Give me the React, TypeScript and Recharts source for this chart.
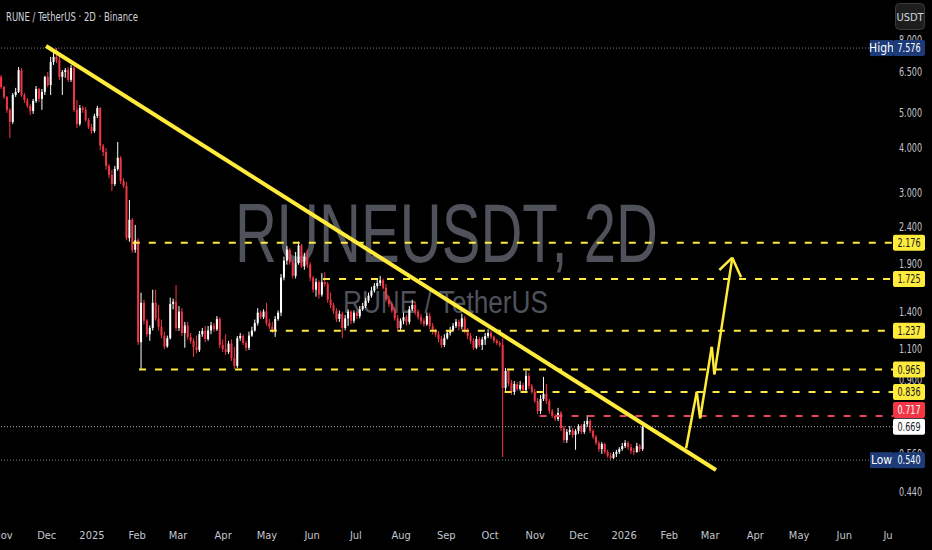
import React from 'react';
import { ComposedChart, Bar, XAxis, YAxis, ReferenceLine } from 'recharts';

// ---- time axis: day 0 = 1 Nov 2024, 2-day candles ----
const START_DAY = -1;
const monthTicks = [0, 30, 61, 92, 120, 151, 181, 212, 242, 273, 304, 334, 365, 395, 426, 457, 485, 516, 546, 577, 607];
const monthLabels = ['Nov', 'Dec', '2025', 'Feb', 'Mar', 'Apr', 'May', 'Jun', 'Jul', 'Aug', 'Sep', 'Oct', 'Nov', 'Dec', '2026', 'Feb', 'Mar', 'Apr', 'May', 'Jun', 'Ju'];

// ---- OHLC (USDT) ----
const opens = [
  6.30, 5.90, 5.54, 5.10, 4.72, 5.61, 5.72, 6.58, 5.61, 5.43,
  5.23, 5.06, 5.40, 5.83, 5.47, 5.72, 6.30, 5.98, 6.93, 7.16,
  7.02, 6.30, 6.50, 6.58, 6.18, 6.67, 5.10, 4.66, 5.16, 5.10,
  4.78, 4.57, 4.45, 4.90, 5.16, 4.05, 3.89, 3.56, 3.36, 3.17,
  3.49, 3.75, 3.23, 3.13, 2.24, 2.52, 2.08, 2.21, 1.15, 1.48,
  1.32, 1.21, 1.26, 1.48, 1.34, 1.27, 1.20, 1.12, 1.18, 1.47,
  1.49, 1.26, 1.40, 1.22, 1.28, 1.19, 1.16, 1.115, 1.094, 1.21,
  1.236, 1.174, 1.24, 1.28, 1.25, 1.335, 1.13, 1.10, 1.08, 1.14,
  1.04, 0.988, 1.18, 1.197, 1.144, 1.11, 1.20, 1.24, 1.30, 1.39,
  1.35, 1.40, 1.30, 1.27, 1.24, 1.335, 1.39, 1.74, 1.94, 2.08,
  1.92, 1.76, 1.91, 2.14, 1.87, 1.99, 1.89, 1.74, 1.61, 1.69,
  1.56, 1.69, 1.67, 1.51, 1.46, 1.405, 1.335, 1.38, 1.26, 1.34,
  1.40, 1.32, 1.39, 1.36, 1.42, 1.45, 1.50, 1.55, 1.60, 1.65,
  1.68, 1.71, 1.63, 1.51, 1.47, 1.41, 1.34, 1.26, 1.32, 1.35,
  1.31, 1.42, 1.46, 1.40, 1.35, 1.32, 1.29, 1.36, 1.277, 1.236,
  1.21, 1.174, 1.13, 1.18, 1.22, 1.24, 1.277, 1.31, 1.27, 1.34,
  1.24, 1.197, 1.16, 1.11, 1.174, 1.13, 1.17, 1.197, 1.22, 1.19,
  1.16, 1.144, 1.13, 0.858, 0.957, 0.886, 0.836, 0.880, 0.852, 0.874,
  0.847, 0.927, 0.869, 0.836, 0.789, 0.740, 0.799, 0.826, 0.789, 0.740,
  0.717, 0.703, 0.731, 0.664, 0.614, 0.647, 0.655, 0.635, 0.651, 0.672,
  0.647, 0.680, 0.694, 0.651, 0.627, 0.603, 0.580, 0.599, 0.569, 0.555,
  0.548, 0.562, 0.569, 0.580, 0.591, 0.603, 0.587, 0.573, 0.569, 0.591,
  0.580,
];
const highs = [
  6.38, 5.94, 5.57, 5.16, 5.68, 5.87, 6.71, 6.67, 5.68, 5.50,
  5.29, 5.47, 5.94, 5.87, 5.83, 6.34, 6.50, 7.16, 7.34, 7.576,
  7.30, 6.58, 6.67, 6.71, 6.80, 6.75, 5.43, 5.26, 5.23, 5.19,
  4.84, 4.66, 4.97, 5.23, 5.19, 4.10, 3.99, 3.60, 3.47, 3.56,
  4.15, 3.79, 3.29, 3.21, 2.86, 2.55, 2.44, 2.24, 1.58, 1.51,
  1.335, 1.28, 1.61, 1.61, 1.46, 1.33, 1.23, 1.20, 1.53, 1.52,
  1.66, 1.45, 1.43, 1.31, 1.31, 1.22, 1.18, 1.20, 1.236, 1.26,
  1.277, 1.277, 1.31, 1.30, 1.36, 1.35, 1.17, 1.21, 1.16, 1.17,
  1.115, 1.197, 1.22, 1.21, 1.16, 1.23, 1.27, 1.33, 1.43, 1.41,
  1.42, 1.48, 1.335, 1.31, 1.36, 1.41, 1.78, 1.99, 2.13, 2.10,
  1.94, 2.05, 2.19, 2.16, 2.04, 2.08, 1.92, 1.76, 1.73, 1.71,
  1.79, 1.80, 1.69, 1.58, 1.48, 1.43, 1.41, 1.40, 1.37, 1.42,
  1.41, 1.41, 1.405, 1.45, 1.48, 1.53, 1.58, 1.64, 1.68, 1.73,
  1.76, 1.73, 1.67, 1.55, 1.49, 1.44, 1.37, 1.34, 1.39, 1.37,
  1.45, 1.51, 1.49, 1.42, 1.38, 1.34, 1.39, 1.39, 1.30, 1.25,
  1.236, 1.197, 1.21, 1.24, 1.27, 1.30, 1.335, 1.33, 1.38, 1.36,
  1.26, 1.22, 1.18, 1.197, 1.19, 1.19, 1.22, 1.25, 1.24, 1.20,
  1.174, 1.16, 1.18, 0.975, 0.969, 0.903, 0.897, 0.891, 0.897, 0.886,
  0.957, 0.945, 0.880, 0.852, 0.805, 0.820, 0.921, 0.880, 0.799, 0.750,
  0.726, 0.755, 0.740, 0.672, 0.659, 0.672, 0.664, 0.659, 0.680, 0.680,
  0.694, 0.721, 0.703, 0.659, 0.635, 0.610, 0.606, 0.603, 0.577, 0.566,
  0.569, 0.577, 0.587, 0.603, 0.614, 0.610, 0.599, 0.584, 0.603, 0.599,
  0.685,
];
const lows = [
  5.83, 5.47, 5.00, 4.26, 4.66, 5.54, 5.68, 5.54, 5.33, 5.16,
  4.93, 4.97, 5.33, 5.36, 5.10, 5.61, 5.90, 5.61, 6.80, 6.89,
  6.18, 5.61, 6.26, 6.10, 6.10, 5.03, 4.54, 4.60, 5.00, 4.72,
  4.51, 4.37, 4.40, 4.84, 3.94, 3.79, 3.47, 3.29, 3.03, 3.13,
  3.45, 3.17, 3.09, 2.21, 2.19, 2.04, 2.04, 1.13, 0.963, 1.29,
  1.19, 1.16, 1.24, 1.32, 1.24, 1.18, 1.10, 1.11, 1.17, 1.42,
  1.236, 1.236, 1.197, 1.11, 1.17, 1.14, 1.046, 1.073, 1.08, 1.19,
  1.15, 1.16, 1.21, 1.23, 1.236, 1.11, 1.08, 1.06, 1.067, 1.02,
  0.969, 0.975, 1.16, 1.13, 1.087, 1.094, 1.19, 1.23, 1.28, 1.335,
  1.335, 1.28, 1.25, 1.22, 1.19, 1.32, 1.36, 1.71, 1.89, 1.89,
  1.73, 1.73, 1.89, 1.85, 1.83, 1.85, 1.70, 1.58, 1.54, 1.52,
  1.54, 1.64, 1.48, 1.43, 1.38, 1.31, 1.31, 1.18, 1.24, 1.277,
  1.29, 1.30, 1.335, 1.34, 1.405, 1.43, 1.48, 1.53, 1.58, 1.62,
  1.65, 1.61, 1.49, 1.44, 1.39, 1.32, 1.23, 1.236, 1.29, 1.28,
  1.29, 1.405, 1.37, 1.33, 1.29, 1.27, 1.277, 1.25, 1.21, 1.19,
  1.15, 1.11, 1.115, 1.17, 1.20, 1.23, 1.26, 1.24, 1.25, 1.22,
  1.174, 1.14, 1.094, 1.10, 1.115, 1.094, 1.13, 1.18, 1.174, 1.144,
  1.13, 1.115, 0.551, 0.842, 0.869, 0.820, 0.820, 0.842, 0.842, 0.836,
  0.836, 0.852, 0.826, 0.779, 0.726, 0.726, 0.789, 0.774, 0.726, 0.708,
  0.694, 0.694, 0.651, 0.603, 0.603, 0.635, 0.623, 0.577, 0.639, 0.639,
  0.639, 0.668, 0.643, 0.619, 0.595, 0.569, 0.562, 0.562, 0.548, 0.540,
  0.544, 0.551, 0.562, 0.573, 0.584, 0.577, 0.562, 0.558, 0.566, 0.569,
  0.573,
];
const closes = [
  5.90, 5.54, 5.10, 4.72, 5.61, 5.72, 6.58, 5.61, 5.43, 5.23,
  5.06, 5.40, 5.83, 5.47, 5.72, 6.30, 5.98, 6.93, 7.16, 7.02,
  6.30, 6.50, 6.58, 6.18, 6.67, 5.10, 4.66, 5.16, 5.10, 4.78,
  4.57, 4.45, 4.90, 5.16, 4.05, 3.89, 3.56, 3.36, 3.17, 3.49,
  3.75, 3.23, 3.13, 2.24, 2.52, 2.08, 2.21, 1.15, 1.48, 1.32,
  1.21, 1.26, 1.48, 1.34, 1.27, 1.20, 1.12, 1.18, 1.47, 1.49,
  1.26, 1.40, 1.22, 1.28, 1.19, 1.16, 1.115, 1.094, 1.21, 1.236,
  1.174, 1.24, 1.28, 1.25, 1.335, 1.13, 1.10, 1.08, 1.14, 1.04,
  0.988, 1.18, 1.197, 1.144, 1.11, 1.20, 1.24, 1.30, 1.39, 1.35,
  1.40, 1.30, 1.27, 1.24, 1.335, 1.39, 1.74, 1.94, 2.08, 1.92,
  1.76, 1.91, 2.14, 1.87, 1.99, 1.89, 1.74, 1.61, 1.69, 1.56,
  1.69, 1.67, 1.51, 1.46, 1.405, 1.335, 1.38, 1.26, 1.34, 1.40,
  1.32, 1.39, 1.36, 1.42, 1.45, 1.50, 1.55, 1.60, 1.65, 1.68,
  1.71, 1.63, 1.51, 1.47, 1.41, 1.34, 1.26, 1.32, 1.35, 1.31,
  1.42, 1.46, 1.40, 1.35, 1.32, 1.29, 1.36, 1.277, 1.236, 1.21,
  1.174, 1.13, 1.18, 1.22, 1.24, 1.277, 1.31, 1.27, 1.34, 1.24,
  1.197, 1.16, 1.11, 1.174, 1.13, 1.17, 1.197, 1.22, 1.19, 1.16,
  1.144, 1.13, 0.858, 0.957, 0.886, 0.836, 0.880, 0.852, 0.874, 0.847,
  0.927, 0.869, 0.836, 0.789, 0.740, 0.799, 0.826, 0.789, 0.740, 0.717,
  0.703, 0.731, 0.664, 0.614, 0.647, 0.655, 0.635, 0.651, 0.672, 0.647,
  0.680, 0.694, 0.651, 0.627, 0.603, 0.580, 0.599, 0.569, 0.555, 0.548,
  0.562, 0.569, 0.580, 0.591, 0.603, 0.587, 0.573, 0.569, 0.591, 0.580,
  0.669,
];

// ---- price axis ----
const priceTicks = [8, 6.5, 5, 4, 3, 2.4, 1.9, 1.4, 1.1, 0.9, 0.56, 0.44];
const HIGH = 7.576;
const LOW = 0.54;
const LAST = 0.669;

// horizontal levels (value, first day they are drawn from)
const levelValues = [2.176, 1.725, 1.237, 0.965, 0.836, 0.717];
const levelStartDays = [89, 219.5, 183, 93.3, 344, 368];
const levelColors = ['#ffeb3b', '#ffeb3b', '#ffeb3b', '#ffeb3b', '#ffeb3b', '#e0475c'];

// right-axis value boxes
const boxValues = [HIGH, 2.176, 1.725, 1.237, 0.965, 0.836, 0.717, LAST, LOW];
const boxFills = ['#1c3b78', '#ffeb3b', '#ffeb3b', '#ffeb3b', '#ffeb3b', '#ffeb3b', '#f23645', '#ffffff', '#1c3b78'];
const boxTextColors = ['#ffffff', '#131722', '#131722', '#131722', '#131722', '#131722', '#ffffff', '#131722', '#ffffff'];
const boxPrefixes = ['High', '', '', '', '', '', '', '', 'Low'];
const boxShift = [0, 0, 0, 0, 0, 0, -6, 0, 0];

// descending trendline
const trendDays = [29.5, 489];
const trendPrices = [7.68, 0.507];

// projected zig-zag arrow
const arrowDays = [468.5, 475.8, 478.1, 486.1, 487.9, 500.2];
const arrowPrices = [0.5825, 0.837, 0.706, 1.117, 0.936, 1.977];
const wingDays = [491.3, 506.2];
const wingPrices = [1.827, 1.743];

const X_DOMAIN: [number, number] = [-2.06, 610.4];
const Y_DOMAIN: [number, number] = [0.368, 10.31];

const AXIS_FONT = "'Liberation Sans Narrow', 'DejaVu Sans Condensed', 'Liberation Sans', sans-serif";
const YELLOW = '#ffeb3b';

const candleData = opens.map((o, i) => ({
  day: START_DAY + 2 * i,
  open: o,
  high: highs[i],
  low: lows[i],
  close: closes[i],
  range: [lows[i], highs[i]],
}));

const Candle = (props: any) => {
  const { x, y, width, height, payload } = props;
  if (x == null || y == null || !payload) return null;
  const top = Math.min(y, y + height);
  const h = Math.abs(height);
  const { open, close, high, low } = payload;
  const lh = Math.log(high);
  const ll = Math.log(low);
  const span = lh - ll || 1;
  const py = (v: number) => top + ((lh - Math.log(v)) / span) * h;
  const cx = x + width / 2;
  const up = close >= open;
  const color = up ? '#ffffff' : '#f23645';
  const bTop = py(Math.max(open, close));
  const bBot = py(Math.min(open, close));
  return (
    <g>
      <line x1={cx} x2={cx} y1={top} y2={top + h} stroke={color} strokeWidth={1} />
      <rect x={cx - 1} y={bTop} width={2} height={Math.max(1, bBot - bTop)} fill={color} />
    </g>
  );
};

const TimeTick = (props: any) => {
  const { x, y, payload } = props;
  const idx = monthTicks.indexOf(payload.value);
  return (
    <text x={x} y={y + 19} textAnchor="middle" fill="#c3c6ce" fontSize={11} fontFamily={AXIS_FONT}>
      {monthLabels[idx]}
    </text>
  );
};

const PriceTick = (props: any) => {
  const { x, y, payload } = props;
  const v = payload.value;
  const bi = boxValues.indexOf(v);
  const label = v.toFixed(3);
  if (bi < 0) {
    return (
      <text x={x + 29} y={y + 4} textAnchor="end" fill="#c3c6ce" fontSize={12} fontFamily={AXIS_FONT} textLength={23} lengthAdjust="spacingAndGlyphs">
        {label}
      </text>
    );
  }
  const cy = y + boxShift[bi];
  const prefix = boxPrefixes[bi];
  return (
    <g>
      {prefix && (
        <g>
          <rect x={x - 23} y={cy - 8} width={23} height={16} fill={boxFills[bi]} />
          <text x={x - 11.5} y={cy + 4} textAnchor="middle" fill={boxTextColors[bi]} fontSize={12} fontFamily={AXIS_FONT}>
            {prefix}
          </text>
        </g>
      )}
      <rect x={x} y={cy - 8} width={32} height={16} rx={2} fill={boxFills[bi]} />
      <text x={x + 16} y={cy + 4} textAnchor="middle" fill={boxTextColors[bi]} fontSize={12} fontFamily={AXIS_FONT} textLength={23} lengthAdjust="spacingAndGlyphs">
        {label}
      </text>
    </g>
  );
};

export default function App() {
  const axisTicks = [...priceTicks, ...boxValues];
  const arrowSegs = arrowDays.slice(0, -1).map((d, i) => [
    { x: d, y: arrowPrices[i] },
    { x: arrowDays[i + 1], y: arrowPrices[i + 1] },
  ]);
  const tipDay = arrowDays[arrowDays.length - 1];
  const tipPrice = arrowPrices[arrowPrices.length - 1];
  const wingSegs = wingDays.map((d, i) => [
    { x: tipDay, y: tipPrice },
    { x: d, y: wingPrices[i] },
  ]);

  return (
    <div style={{ position: 'absolute', left: 0, top: 0, width: 932, height: 550, background: '#000000', overflow: 'hidden' }}>
      <svg width={932} height={550} style={{ position: 'absolute', left: 0, top: 0 }}>
        <text x={446.5} y={262} textAnchor="middle" fill="#4f525a" fontSize={84} fontFamily="'Liberation Sans', Arial, sans-serif" textLength={423} lengthAdjust="spacingAndGlyphs">
          RUNEUSDT, 2D
        </text>
        <text x={445.5} y={313} textAnchor="middle" fill="#4f525a" fontSize={31} fontFamily="'Liberation Sans', Arial, sans-serif" textLength={205} lengthAdjust="spacingAndGlyphs">
          RUNE / TetherUS
        </text>
      </svg>
      <div style={{ position: 'absolute', left: 0, top: 0 }}>
        <ComposedChart width={932} height={550} data={candleData} margin={{ top: 0, right: 0, bottom: 0, left: 0 }}>
          <XAxis
            dataKey="day"
            type="number"
            domain={X_DOMAIN}
            allowDataOverflow
            ticks={monthTicks}
            interval={0}
            height={30}
            axisLine={false}
            tickLine={false}
            tickSize={0}
            tickMargin={0}
            tick={<TimeTick />}
          />
          <YAxis
            orientation="right"
            scale="log"
            type="number"
            domain={Y_DOMAIN}
            allowDataOverflow
            ticks={axisTicks}
            interval={0}
            width={39}
            axisLine={false}
            tickLine={false}
            tickSize={0}
            tickMargin={0}
            tick={<PriceTick />}
          />
          <ReferenceLine y={HIGH} stroke="#787b86" strokeWidth={1} strokeDasharray="1 2" />
          <ReferenceLine y={LAST} stroke="#b2b5be" strokeWidth={1} strokeDasharray="1 2" />
          <ReferenceLine y={LOW} stroke="#787b86" strokeWidth={1} strokeDasharray="1 2" />
          {levelValues.map((v, i) => (
            <ReferenceLine
              key={'lv' + i}
              segment={[{ x: levelStartDays[i], y: v }, { x: X_DOMAIN[1], y: v }]}
              stroke={levelColors[i]}
              strokeWidth={2}
              strokeDasharray="7 9"
            />
          ))}
          <Bar dataKey="range" shape={Candle} barSize={2} isAnimationActive={false} />
          <ReferenceLine
            segment={[{ x: trendDays[0], y: trendPrices[0] }, { x: trendDays[1], y: trendPrices[1] }]}
            stroke={YELLOW}
            strokeWidth={4}
          />
          {arrowSegs.map((s, i) => (
            <ReferenceLine key={'ar' + i} segment={s} stroke={YELLOW} strokeWidth={2.5} />
          ))}
          {wingSegs.map((s, i) => (
            <ReferenceLine key={'wg' + i} segment={s} stroke={YELLOW} strokeWidth={2.5} />
          ))}
        </ComposedChart>
      </div>
      <svg width={932} height={550} style={{ position: 'absolute', left: 0, top: 0, pointerEvents: 'none' }}>
        <text x={6} y={21} fill="#d1d4dc" fontSize={13} fontFamily={AXIS_FONT} textLength={132} lengthAdjust="spacingAndGlyphs">
          RUNE / TetherUS · 2D · Binance
        </text>
        <rect x={895.5} y={3.5} width={29} height={26} rx={4} fill="#1e1e1e" stroke="#3a3a3a" />
        <text x={910} y={20.5} textAnchor="middle" fill="#d1d4dc" fontSize={11} fontFamily={AXIS_FONT}>
          USDT
        </text>
      </svg>
    </div>
  );
}
